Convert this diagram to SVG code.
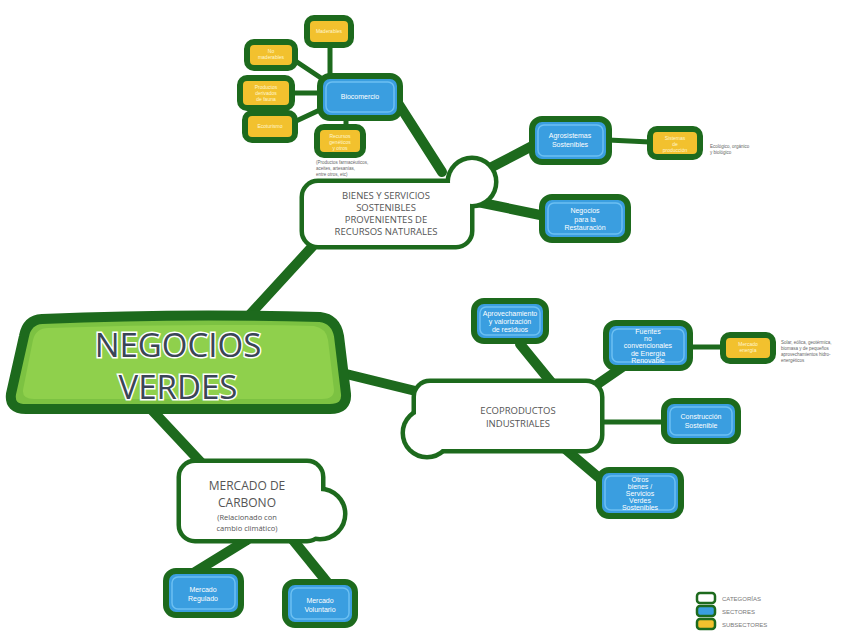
<svg xmlns="http://www.w3.org/2000/svg" width="865" height="633" viewBox="0 0 865 633">
<style>
.c{stroke:#1d6a1d;fill:none;stroke-linecap:round}
.thick{stroke-width:10}
.thin{stroke-width:5}
.box{stroke:#1d6a1d;stroke-width:6}
.blue{fill:#3a9ee0}
.blueIn{fill:none;stroke:#6cc0f2;stroke-width:1.5}
.yel{fill:#f2c12e}
.cat{fill:#fff;stroke:#1d6a1d;stroke-width:9}
.catf{fill:#fff}
.t{font-family:"Open Sans","Liberation Sans",sans-serif;text-anchor:middle}
.bt{fill:#fff;font-size:7px;font-family:"Liberation Sans",sans-serif}
.yt{fill:#fff6d0;font-size:5px;font-family:"Liberation Sans",sans-serif}
.ct{fill:#555;font-size:9.5px}
.note{font-family:"Liberation Sans",sans-serif;fill:#666;font-size:4.5px}
.lg{font-family:"Liberation Sans",sans-serif;fill:#777;font-size:6px}
</style>
<rect width="865" height="633" fill="#fff"/>
<g id="connectors">
<path class="c thick" d="M245,320 L322,236"/>
<path class="c thick" d="M338,372 L440,397"/>
<path class="c thick" d="M150,408 L208,470"/>
<path class="c thick" d="M396,100 L442,172"/>
<path class="c thick" d="M490,168 L536,144"/>
<path class="c thick" d="M468,200 L545,216"/>
<path class="c thin" d="M330,44 L330,76"/>
<path class="c thin" d="M294,60 L324,80"/>
<path class="c thin" d="M290,93 L320,93"/>
<path class="c thin" d="M294,122 L324,108"/>
<path class="c thin" d="M346,116 L346,128"/>
<path class="c thin" d="M608,140 L650,142"/>
<path class="c thick" d="M520,344 L551,382"/>
<path class="c thick" d="M624,366 L592,388"/>
<path class="c thin" d="M688,347 L724,347"/>
<path class="c thin" d="M600,422 L664,422"/>
<path class="c thick" d="M564,448 L604,482"/>
<path class="c thick" d="M247,540 L195,572"/>
<path class="c thick" d="M293,540 L327,582"/>
</g>
<g id="negocios-verdes">
<path d="M42,319 Q180,313 320,317 Q336,319 339,336 L346,394 Q347,409 330,409 L26,409 Q9,409 11,394 L24,336 Q27,320 42,319 Z" fill="#7cc242" stroke="#1d6a1d" stroke-width="10"/>
<path d="M48,328 Q180,323 314,326 Q326,328 328,340 L334,390 Q334,399 322,399 L34,399 Q22,399 23,390 L33,340 Q36,328 48,328 Z" fill="#8fd04c"/>
<text class="t" x="178" y="357" font-size="33" fill="#3b4656" stroke="#fff" stroke-width="3" paint-order="stroke" font-family="Liberation Sans,sans-serif">NEGOCIOS</text>
<text class="t" x="178" y="399" font-size="33" fill="#3b4656" stroke="#fff" stroke-width="3" paint-order="stroke" font-family="Liberation Sans,sans-serif">VERDES</text>
</g>
<g id="bienes">
<circle cx="472" cy="182" r="22" class="cat"/>
<rect x="304" y="183" width="166" height="62" rx="14" class="cat"/>
<circle cx="472" cy="182" r="22" class="catf"/>
<rect x="304" y="183" width="166" height="62" rx="14" class="catf"/>
<text class="t ct" x="386" y="199">BIENES Y SERVICIOS</text>
<text class="t ct" x="386" y="211">SOSTENIBLES</text>
<text class="t ct" x="386" y="223">PROVENIENTES DE</text>
<text class="t ct" x="386" y="235">RECURSOS NATURALES</text>
</g>
<g id="biocomercio">
<rect x="320" y="76" width="80" height="42" rx="10" class="box blue"/>
<rect x="326" y="82" width="68" height="30" rx="6" class="blueIn"/>
<text class="t bt" x="360" y="99">Biocomercio</text>
</g>
<g id="maderables">
<rect x="307" y="18" width="44" height="27" rx="7" class="box yel"/>
<text class="t yt" x="329" y="33">Maderables</text>
</g>
<g id="no-maderables">
<rect x="247" y="42" width="48" height="26" rx="7" class="box yel"/>
<text class="t yt" x="271" y="53">No</text>
<text class="t yt" x="271" y="59">maderables</text>
</g>
<g id="fauna">
<rect x="240" y="78" width="52" height="30" rx="7" class="box yel"/>
<text class="t yt" x="266" y="89">Productos</text>
<text class="t yt" x="266" y="95">derivados</text>
<text class="t yt" x="266" y="101">de fauna</text>
</g>
<g id="ecoturismo">
<rect x="245" y="113" width="50" height="27" rx="7" class="box yel"/>
<text class="t yt" x="270" y="128">Ecoturismo</text>
</g>
<g id="recursos-geneticos">
<rect x="317" y="127" width="46" height="28" rx="7" class="box yel"/>
<text class="t yt" x="340" y="138">Recursos</text>
<text class="t yt" x="340" y="144">genéticos</text>
<text class="t yt" x="340" y="150">y otros</text>
<text class="note" x="316" y="164">(Productos farmacéuticos,</text>
<text class="note" x="316" y="170">aceites, artesanías,</text>
<text class="note" x="316" y="176">entre otros, etc)</text>
</g>
<g id="agrosistemas">
<rect x="532" y="119" width="77" height="43" rx="10" class="box blue"/>
<rect x="538" y="125" width="65" height="31" rx="6" class="blueIn"/>
<text class="t bt" x="570" y="138">Agrosistemas</text>
<text class="t bt" x="570" y="147">Sostenibles</text>
</g>
<g id="sistemas-produccion">
<rect x="650" y="129" width="50" height="28" rx="7" class="box yel"/>
<text class="t yt" x="675" y="140">Sistemas</text>
<text class="t yt" x="675" y="146">de</text>
<text class="t yt" x="675" y="152">producción</text>
<text class="note" x="710" y="148">Ecológico, orgánico</text>
<text class="note" x="710" y="154">y biológico</text>
</g>
<g id="restauracion">
<rect x="542" y="197" width="86" height="43" rx="10" class="box blue"/>
<rect x="548" y="203" width="74" height="31" rx="6" class="blueIn"/>
<text class="t bt" x="585" y="213">Negocios</text>
<text class="t bt" x="585" y="221.5">para la</text>
<text class="t bt" x="585" y="230">Restauración</text>
</g>
<g id="ecoproductos">
<circle cx="427" cy="433" r="22" class="cat"/>
<rect x="416" y="383" width="184" height="66" rx="14" class="cat"/>
<circle cx="427" cy="433" r="22" class="catf"/>
<rect x="416" y="383" width="184" height="66" rx="14" class="catf"/>
<text class="t ct" x="518" y="414">ECOPRODUCTOS</text>
<text class="t ct" x="518" y="427">INDUSTRIALES</text>
</g>
<g id="aprovechamiento">
<rect x="474" y="301" width="72" height="40" rx="10" class="box blue"/>
<rect x="480" y="307" width="60" height="28" rx="6" class="blueIn"/>
<text class="t bt" x="510" y="315.5" font-size="6.5">Aprovechamiento</text>
<text class="t bt" x="510" y="323.5" font-size="6.5">y valorización</text>
<text class="t bt" x="510" y="331.5" font-size="6.5">de residuos</text>
</g>
<g id="fuentes">
<rect x="606" y="323" width="84" height="45" rx="10" class="box blue"/>
<rect x="612" y="329" width="72" height="33" rx="6" class="blueIn"/>
<text class="t bt" x="648" y="334" font-size="6">Fuentes</text>
<text class="t bt" x="648" y="341.2" font-size="6">no</text>
<text class="t bt" x="648" y="348.4" font-size="6">convencionales</text>
<text class="t bt" x="648" y="355.6" font-size="6">de Energía</text>
<text class="t bt" x="648" y="362.8" font-size="6">Renovable</text>
</g>
<g id="mercado-energia">
<rect x="723" y="335" width="50" height="26" rx="7" class="box yel"/>
<text class="t yt" x="748" y="346">Mercado</text>
<text class="t yt" x="748" y="352">energía</text>
<text class="note" x="781" y="344">Solar, eólica, geotérmica,</text>
<text class="note" x="781" y="350">biomasa y de pequeños</text>
<text class="note" x="781" y="356">aprovechamientos hidro-</text>
<text class="note" x="781" y="362">energéticos</text>
</g>
<g id="construccion">
<rect x="664" y="401" width="74" height="40" rx="10" class="box blue"/>
<rect x="670" y="407" width="62" height="28" rx="6" class="blueIn"/>
<text class="t bt" x="701" y="419">Construcción</text>
<text class="t bt" x="701" y="427.5">Sostenible</text>
</g>
<g id="otros">
<rect x="599" y="470" width="82" height="46" rx="10" class="box blue"/>
<rect x="605" y="476" width="70" height="34" rx="6" class="blueIn"/>
<text class="t bt" x="640" y="481.5" font-size="6">Otros</text>
<text class="t bt" x="640" y="488.7" font-size="6">bienes /</text>
<text class="t bt" x="640" y="495.9" font-size="6">Servicios</text>
<text class="t bt" x="640" y="503.1" font-size="6">Verdes</text>
<text class="t bt" x="640" y="510.3" font-size="6">Sostenibles</text>
</g>
<g id="mercado-carbono">
<circle cx="320" cy="514" r="23" class="cat"/>
<rect x="181" y="463" width="140" height="76" rx="14" class="cat"/>
<circle cx="320" cy="514" r="23" class="catf"/>
<rect x="181" y="463" width="140" height="76" rx="14" class="catf"/>
<text class="t" x="247" y="490" font-size="12" fill="#555">MERCADO DE</text>
<text class="t" x="247" y="507" font-size="12" fill="#555">CARBONO</text>
<text class="t" x="247" y="520" font-size="7.5" fill="#555">(Relacionado con</text>
<text class="t" x="247" y="530.5" font-size="7.5" fill="#555">cambio climático)</text>
</g>
<g id="mercado-regulado">
<rect x="166" y="571" width="75" height="44" rx="10" class="box blue"/>
<rect x="172" y="577" width="63" height="32" rx="6" class="blueIn"/>
<text class="t bt" x="203" y="592">Mercado</text>
<text class="t bt" x="203" y="601">Regulado</text>
</g>
<g id="mercado-voluntario">
<rect x="285" y="582" width="70" height="43" rx="10" class="box blue"/>
<rect x="291" y="588" width="58" height="31" rx="6" class="blueIn"/>
<text class="t bt" x="320" y="603">Mercado</text>
<text class="t bt" x="320" y="612">Voluntario</text>
</g>
<g id="legend">
<rect x="697" y="593" width="18" height="10" rx="3" fill="#fff" stroke="#1d6a1d" stroke-width="2.5"/>
<rect x="697" y="606" width="18" height="10" rx="3" fill="#3a9ee0" stroke="#1d6a1d" stroke-width="2.5"/>
<rect x="697" y="619" width="18" height="10" rx="3" fill="#f2c12e" stroke="#1d6a1d" stroke-width="2.5"/>
<text class="lg" x="722" y="601">CATEGORÍAS</text>
<text class="lg" x="722" y="614">SECTORES</text>
<text class="lg" x="722" y="627">SUBSECTORES</text>
</g>
</svg>
